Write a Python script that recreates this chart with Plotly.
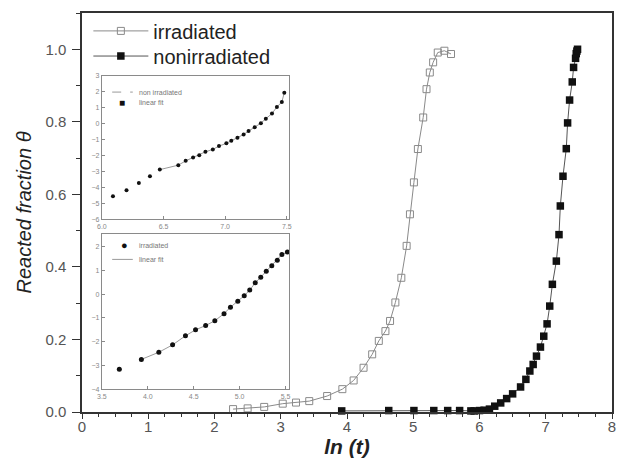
import plotly.graph_objects as go

# Main panel: reacted fraction vs ln(t)
irr_lnt = [2.28, 2.50, 2.75, 3.03, 3.23, 3.43, 3.70, 3.93, 4.10, 4.25, 4.38, 4.48,
           4.58, 4.65, 4.73, 4.82, 4.90, 4.95, 5.01, 5.07, 5.15, 5.20, 5.25, 5.30,
           5.37, 5.47, 5.57]
irr_theta = [0.008, 0.010, 0.014, 0.023, 0.026, 0.030, 0.044, 0.063, 0.087, 0.122,
             0.159, 0.196, 0.223, 0.251, 0.302, 0.370, 0.458, 0.545, 0.633, 0.725,
             0.812, 0.890, 0.936, 0.964, 0.991, 0.996, 0.987]

non_lnt = [3.92, 4.63, 5.01, 5.31, 5.52, 5.70, 5.87, 5.92, 6.00, 6.07, 6.15, 6.23,
           6.32, 6.41, 6.50, 6.62, 6.70, 6.76, 6.81, 6.86, 6.92, 6.97, 7.02, 7.06,
           7.10, 7.16, 7.20, 7.22, 7.26, 7.31, 7.33, 7.36, 7.40, 7.42, 7.45, 7.46,
           7.47, 7.48]
non_theta = [0.003, 0.004, 0.004, 0.004, 0.004, 0.004, 0.003, 0.003, 0.004, 0.005,
             0.008, 0.016, 0.025, 0.037, 0.050, 0.069, 0.090, 0.113, 0.131, 0.154,
             0.179, 0.209, 0.243, 0.292, 0.352, 0.416, 0.489, 0.568, 0.650, 0.726,
             0.797, 0.860, 0.910, 0.950, 0.975, 0.988, 0.995, 1.000]

# Upper inset: Avrami plot, non irradiated
ins_non_x = [6.09, 6.20, 6.30, 6.39, 6.47, 6.62, 6.68, 6.74, 6.79, 6.84, 6.90, 6.95,
             7.01, 7.05, 7.10, 7.15, 7.19, 7.24, 7.29, 7.33, 7.38, 7.42, 7.46, 7.48]
ins_non_y = [-4.55, -4.17, -3.72, -3.30, -2.88, -2.60, -2.33, -2.12, -1.97, -1.76,
             -1.61, -1.40, -1.23, -1.07, -0.88, -0.67, -0.46, -0.21, 0.04, 0.32,
             0.64, 1.06, 1.37, 1.95]

# Lower inset: Avrami plot, irradiated
ins_irr_x = [3.69, 3.93, 4.12, 4.27, 4.41, 4.52, 4.63, 4.73, 4.83, 4.90, 4.98, 5.05,
             5.11, 5.17, 5.23, 5.29, 5.35, 5.41, 5.46, 5.52]
ins_irr_y = [-3.15, -2.74, -2.44, -2.13, -1.75, -1.50, -1.32, -1.12, -0.82, -0.55,
             -0.30, -0.07, 0.17, 0.47, 0.71, 0.96, 1.19, 1.42, 1.66, 1.76]

FONT = "Liberation Sans, Arial, sans-serif"

fig = go.Figure()

fig.add_trace(go.Scatter(
    x=irr_lnt, y=irr_theta, mode="lines+markers", name="irradiated",
    line=dict(color="#8a8a8a", width=1),
    marker=dict(symbol="square-open", size=7, color="#8a8a8a", line=dict(width=1)),
    cliponaxis=False, legend="legend"))
fig.add_trace(go.Scatter(
    x=non_lnt, y=non_theta, mode="lines+markers", name="nonirradiated",
    line=dict(color="#555555", width=1),
    marker=dict(symbol="square", size=7.5, color="#111111"),
    cliponaxis=False, legend="legend2"))

# Upper inset traces
fig.add_trace(go.Scatter(
    x=ins_non_x[4:], y=ins_non_y[4:], mode="lines", xaxis="x2", yaxis="y2",
    line=dict(color="#9a9a9a", width=1), showlegend=False))
fig.add_trace(go.Scatter(
    x=ins_non_x, y=ins_non_y, mode="markers", xaxis="x2", yaxis="y2",
    marker=dict(symbol="circle", size=4, color="#111111"), showlegend=False))

# Lower inset traces
fig.add_trace(go.Scatter(
    x=ins_irr_x[1:], y=ins_irr_y[1:], mode="lines", xaxis="x3", yaxis="y3",
    line=dict(color="#9a9a9a", width=1), showlegend=False))
fig.add_trace(go.Scatter(
    x=ins_irr_x, y=ins_irr_y, mode="markers", xaxis="x3", yaxis="y3",
    marker=dict(symbol="circle", size=5, color="#111111"), showlegend=False))

main_axis = dict(showline=True, linecolor="#333333", linewidth=1.5, mirror=True,
                 showgrid=False, zeroline=False, ticks="outside",
                 tickcolor="#333333", tickwidth=1.2,
                 tickfont=dict(family=FONT, size=15, color="#555555"))

legend_style = dict(xanchor="left", yanchor="top", bgcolor="rgba(0,0,0,0)",
                    itemwidth=55, font=dict(family=FONT, size=20, color="#222222"))

fig.update_layout(
    width=621, height=474,
    margin=dict(l=82, r=5, t=13, b=62),
    paper_bgcolor="white", plot_bgcolor="white",
    font=dict(family=FONT, color="#222222"),
    xaxis=dict(range=[0, 8], dtick=1, tick0=0, ticklen=5, ticklabelstandoff=-5,
               minor=dict(dtick=0.25, ticklen=3, ticks="outside", tickcolor="#333333"),
               title=dict(text="<b><i>ln (t)</i></b>", font=dict(size=21, color="#222222"),
                          standoff=6),
               **main_axis),
    yaxis=dict(range=[0, 1.1], dtick=0.2, tick0=0, tickformat=".1f", ticklen=8,
               ticklabelstandoff=3,
               minor=dict(dtick=0.1, ticklen=4, ticks="outside", tickcolor="#333333"),
               title=dict(text="<i>Reacted fraction θ</i>", font=dict(size=20, color="#222222"),
                          standoff=8),
               **main_axis),
    legend=dict(x=0.012, y=1.004, **legend_style),
    legend2=dict(x=0.012, y=0.941, **legend_style),
)

inset_axis = dict(showline=True, linecolor="#8a8a8a", linewidth=1, mirror=True,
                  showgrid=False, zeroline=False, ticks="inside", ticklen=3,
                  tickcolor="#8a8a8a",
                  tickfont=dict(family=FONT, size=7, color="#888888"))

fig.update_layout(
    xaxis2=dict(domain=[0.0375, 0.391], anchor="y2", range=[6.0, 7.52], dtick=0.5,
                tick0=6.0, tickformat=".1f", **inset_axis),
    yaxis2=dict(domain=[0.483, 0.842], anchor="x2", range=[-6, 3], dtick=1, **inset_axis),
    xaxis3=dict(domain=[0.0375, 0.391], anchor="y3", range=[3.5, 5.54], dtick=0.5,
                tick0=3.5, tickformat=".1f", **inset_axis),
    yaxis3=dict(domain=[0.0565, 0.445], anchor="x3", range=[-4, 2.5], dtick=1, **inset_axis),
)

# Inset legends
small = dict(family=FONT, size=7, color="#777777")
ann = [
    dict(xref="x2 domain", yref="y2 domain", x=0.19, y=0.888, text="non irradiated",
         showarrow=False, xanchor="left", yanchor="middle", font=small),
    dict(xref="x2 domain", yref="y2 domain", x=0.19, y=0.818, text="linear fit",
         showarrow=False, xanchor="left", yanchor="middle", font=small),
    dict(xref="x2 domain", yref="y2 domain", x=0.11, y=0.818, text="■",
         showarrow=False, xanchor="center", yanchor="middle",
         font=dict(family=FONT, size=10, color="#111111")),
    dict(xref="x3 domain", yref="y3 domain", x=0.19, y=0.929, text="irradiated",
         showarrow=False, xanchor="left", yanchor="middle", font=small),
    dict(xref="x3 domain", yref="y3 domain", x=0.19, y=0.839, text="linear fit",
         showarrow=False, xanchor="left", yanchor="middle", font=small),
    dict(xref="x3 domain", yref="y3 domain", x=0.12, y=0.929, text="●",
         showarrow=False, xanchor="center", yanchor="middle",
         font=dict(family=FONT, size=11, color="#111111")),
]
shapes = [
    dict(type="line", xref="x2 domain", yref="y2 domain", x0=0.055, x1=0.165,
         y0=0.888, y1=0.888, line=dict(color="#999999", width=1, dash="dash")),
    dict(type="line", xref="x3 domain", yref="y3 domain", x0=0.055, x1=0.165,
         y0=0.839, y1=0.839, line=dict(color="#999999", width=1)),
]
fig.update_layout(annotations=ann, shapes=shapes)

fig.write_html("out.html")
